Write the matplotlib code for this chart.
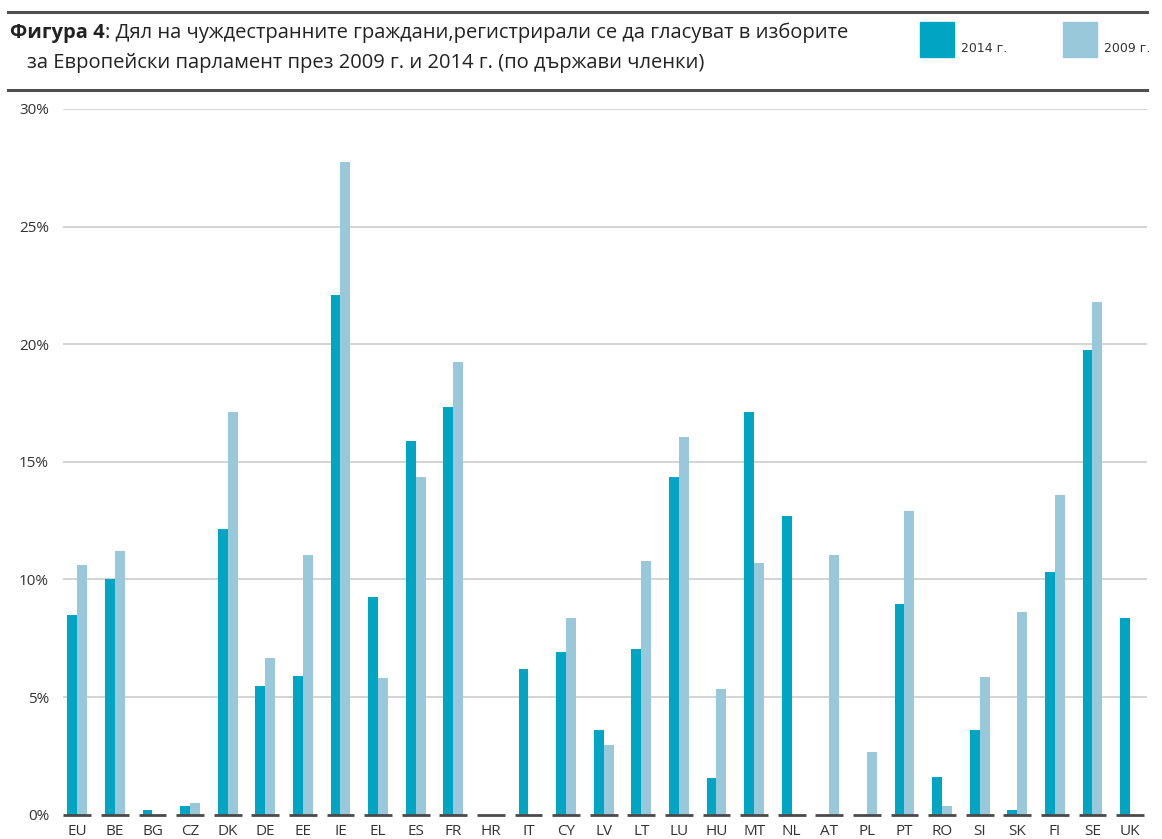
import matplotlib
matplotlib.use('Agg')
import matplotlib.pyplot as plt
import numpy as np
from matplotlib.patches import Rectangle
from matplotlib.lines import Line2D

countries = ['EU', 'BE', 'BG', 'CZ', 'DK', 'DE', 'EE', 'IE', 'EL', 'ES', 'FR', 'HR', 'IT', 'CY',
             'LV', 'LT', 'LU', 'HU', 'MT', 'NL', 'AT', 'PL', 'PT', 'RO', 'SI', 'SK', 'FI', 'SE', 'UK']
share_2014 = [8.5, 10.0, 0.2, 0.35, 12.15, 5.45, 5.9, 22.1, 9.25, 15.9, 17.35, 0.0, 6.2, 6.9,
              3.6, 7.05, 14.35, 1.55, 17.1, 12.7, 0.0, 0.0, 8.95, 1.6, 3.6, 0.2, 10.3, 19.75, 8.35]
share_2009 = [10.6, 11.2, 0.0, 0.5, 17.1, 6.65, 11.05, 27.75, 5.8, 14.35, 19.25, 0.0, 0.0, 8.35,
              2.95, 10.8, 16.05, 5.35, 10.7, 0.0, 11.05, 2.65, 12.9, 0.35, 5.85, 8.6, 13.6, 21.8, 0.0]
yticks = [0, 5, 10, 15, 20, 25, 30]
legend_labels = ['2014 г.', '2009 г.']

c14 = '#00a5c3'
c09 = '#98c8da'
font = ['Open Sans', 'DejaVu Sans']

fig = plt.figure(figsize=(11.62, 8.39), dpi=100)
ax = fig.add_axes([63 / 1162, 1 - 814.7 / 839, (1147 - 63) / 1162, (814.7 - 109) / 839])

x = np.arange(len(countries))
w = 0.262
ax.bar(x - w / 2, share_2014, w, color=c14, zorder=3)
ax.bar(x + w / 2, share_2009, w, color=c09, zorder=3)
for xi in x:
    ax.plot([xi - 0.37, xi + 0.37], [0, 0], color='#4a4a4a', lw=2.0, zorder=4,
            solid_capstyle='butt', clip_on=False)

ax.set_xlim(-0.38, 28.45)
ax.set_ylim(0, 30)
ax.set_yticks(yticks)
ax.set_yticklabels([f'{t}%' for t in yticks], family=font, fontsize=11, color='#333333')
ax.grid(axis='y', color='#cdcdcd', lw=1.2, zorder=0)
ax.yaxis.get_gridlines()[0].set_visible(False)
ax.tick_params(axis='y', length=0, pad=10)
ax.set_xticks(x)
ax.set_xticklabels(countries, family=font, fontsize=11, color='#333333')
ax.tick_params(axis='x', length=0, pad=7)
for s in ax.spines.values():
    s.set_visible(False)

# header rules
for yy in (12, 89.5):
    fig.add_artist(Line2D([8 / 1162, 1147 / 1162], [1 - yy / 839] * 2, color='#505050', lw=2.2))

t1 = fig.text(10 / 1162, 1 - 33 / 839, 'Фигура 4', family=font, fontsize=14.5,
              fontweight='bold', color='#222222', va='center')
fig.canvas.draw()
bb = t1.get_window_extent()
fig.text(bb.x1 / 1162, 1 - 33 / 839,
         ': Дял на чуждестранните граждани,регистрирали се да гласуват в изборите',
         family=font, fontsize=14.5, color='#222222', va='center')
fig.text(27 / 1162, 1 - 63 / 839,
         'за Европейски парламент през 2009 г. и 2014 г. (по държави членки)',
         family=font, fontsize=14.5, color='#222222', va='center')

# legend
for x0, col, lab in ((920, c14, legend_labels[0]), (1063, c09, legend_labels[1])):
    fig.add_artist(Rectangle((x0 / 1162, 1 - 57 / 839), 34 / 1162, 35 / 839,
                             color=col, transform=fig.transFigure))
    fig.text((x0 + 41) / 1162, 1 - 49 / 839, lab, fontsize=9, color='#333333', va='center')

fig.savefig('out.png', dpi=100)
